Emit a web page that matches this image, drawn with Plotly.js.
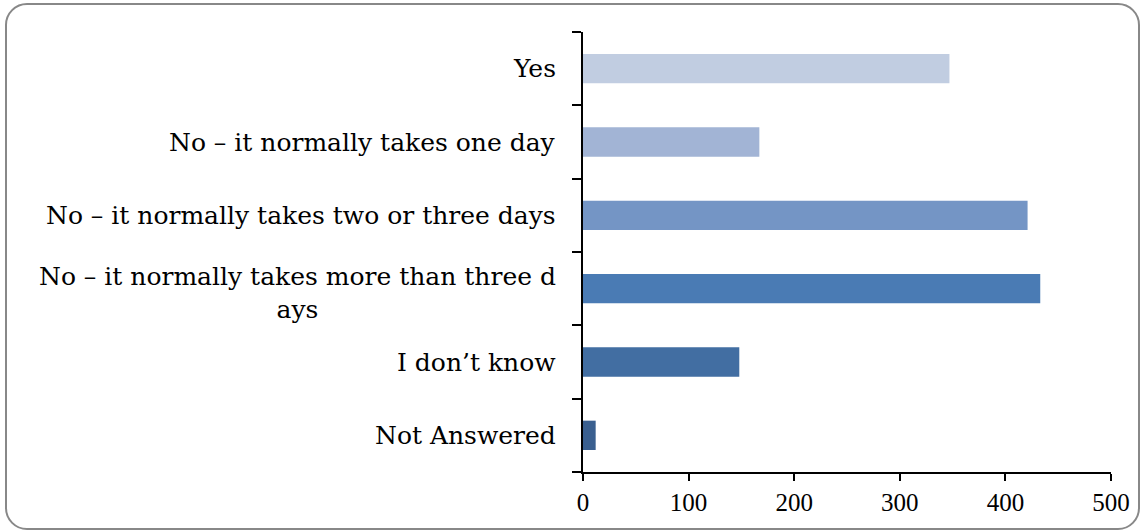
<!DOCTYPE html>
<html>
<head>
<meta charset="utf-8">
<script src="https://cdn.plot.ly/plotly-3.0.1.min.js"></script>
<style>
  html, body { margin: 0; padding: 0; background: #fff; }
  #wrap { position: relative; width: 1144px; height: 531px; }
  #chart { position: absolute; left: 0; top: 0; width: 1144px; height: 531px; }
  #frame { position: absolute; left: 5px; top: 3px; width: 1131px; height: 523px;
           border: 2px solid #888; border-radius: 22px; pointer-events: none; }
</style>
</head>
<body>
<div id="wrap">
  <div id="chart"></div>
  <div id="frame"></div>
</div>
<script>
const categories = [
  "Yes",
  "No – it normally takes one day",
  "No – it normally takes two or three days",
  "No – it normally takes more than three d<br>ays",
  "I don’t know",
  "Not Answered"
];
const values = [347, 167, 421, 433, 148, 12];
const barColors = ["#C1CDE1", "#A2B4D5", "#7495C5", "#4A7BB4", "#426EA2", "#3A5F8F"];
const xTicks = [0, 100, 200, 300, 400, 500];

const LABEL_FONT = "DejaVu Serif, serif";
const TICK_FONT = "Liberation Serif, Times New Roman, serif";

const trace = {
  type: "bar",
  orientation: "h",
  y: categories,
  x: values,
  marker: { color: barColors },
  hoverinfo: "none"
};

const annotations = categories.map(c => ({
  xref: "paper", yref: "y",
  x: 0, y: c,
  xanchor: "right", yanchor: "middle",
  xshift: -25,
  yshift: c.indexOf("<br>") >= 0 ? -4 : 0,
  text: c,
  align: "center",
  showarrow: false,
  font: { family: LABEL_FONT, size: 25, color: "#000" }
}));

const layout = {
  width: 1144, height: 531,
  margin: { l: 583, r: 33, t: 32, b: 59 },
  paper_bgcolor: "#fff",
  plot_bgcolor: "#fff",
  showlegend: false,
  bargap: 0.6,
  xaxis: {
    range: [0, 500],
    tickvals: xTicks,
    ticktext: xTicks.map(String),
    showgrid: false,
    zeroline: false,
    showline: true,
    linecolor: "#000",
    linewidth: 2,
    ticks: "outside",
    ticklen: 7,
    tickwidth: 2,
    tickcolor: "#000",
    tickfont: { family: TICK_FONT, size: 25, color: "#000" },
    fixedrange: true
  },
  yaxis: {
    categoryorder: "array",
    categoryarray: categories.slice().reverse(),
    autorange: false,
    range: [-0.5, categories.length - 0.5],
    showgrid: false,
    zeroline: false,
    showline: true,
    linecolor: "#000",
    linewidth: 2,
    ticks: "outside",
    tickmode: "array",
    tickvals: [-0.5, 0.5, 1.5, 2.5, 3.5, 4.5, 5.5],
    ticktext: ["", "", "", "", "", "", ""],
    ticklen: 9,
    tickwidth: 2,
    tickcolor: "#000",
    showticklabels: false,
    fixedrange: true
  },
  annotations: annotations
};

Plotly.newPlot("chart", [trace], layout, { displayModeBar: false, staticPlot: true });
</script>
</body>
</html>
